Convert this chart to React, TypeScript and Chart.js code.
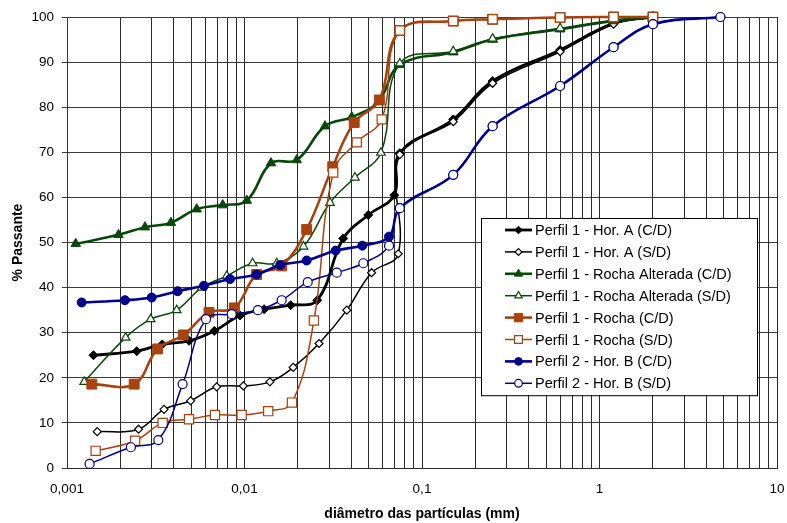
import React, { useEffect, useRef } from 'react';
import { Chart, registerables } from 'chart.js';

Chart.register(...registerables);

const FONT = '"Liberation Sans", Arial, Helvetica, sans-serif';

// Particle diameters (mm) and % passing for each test
const horA_CD_x = [0.00141, 0.00247, 0.00344, 0.00487, 0.00676, 0.00943, 0.0129, 0.0182, 0.0257, 0.036, 0.0498, 0.0698, 0.075, 0.15, 0.25, 0.6, 1.2, 2.0];
const horA_CD_y = [25.0, 25.9, 27.4, 28.2, 30.4, 33.8, 35.2, 36.1, 37.2, 50.9, 56.1, 60.5, 69.8, 77.3, 85.8, 92.7, 98.6, 100];

const horA_SD_x = [0.00148, 0.00253, 0.00352, 0.00497, 0.00697, 0.00985, 0.0139, 0.0188, 0.0263, 0.0377, 0.052, 0.0735, 0.075, 0.15, 0.25, 0.6, 1.2, 2.0];
const horA_SD_y = [8.05, 8.6, 13.0, 14.9, 18.0, 18.2, 19.1, 22.3, 27.6, 35.0, 43.3, 47.5, 69.5, 76.8, 85.3, 92.3, 98.4, 100];

const rochaAlt_CD_x = [0.00112, 0.00195, 0.00275, 0.00385, 0.00538, 0.00754, 0.0103, 0.0141, 0.0197, 0.0284, 0.0402, 0.0567, 0.075, 0.15, 0.25, 0.6, 1.2, 2.0];
const rochaAlt_CD_y = [49.7, 51.7, 53.4, 54.4, 57.4, 58.3, 59.3, 67.6, 68.3, 75.8, 77.8, 81.2, 89.4, 92.2, 95.0, 97.3, 99.1, 100];

const rochaAlt_SD_x = [0.00125, 0.00214, 0.00296, 0.00415, 0.00574, 0.00794, 0.0111, 0.0152, 0.0215, 0.0303, 0.0419, 0.0587, 0.075, 0.15, 0.25, 0.6, 1.2, 2.0];
const rochaAlt_SD_y = [19.1, 28.9, 33.0, 35.0, 40.0, 42.6, 45.4, 45.4, 49.1, 58.8, 64.4, 69.9, 89.7, 92.4, 95.2, 97.5, 99.3, 100];

const rocha_CD_x = [0.00138, 0.00239, 0.00324, 0.00452, 0.00631, 0.00877, 0.0117, 0.0162, 0.0224, 0.0314, 0.0415, 0.0575, 0.075, 0.15, 0.25, 0.6, 1.2, 2.0];
const rocha_CD_y = [18.6, 18.6, 26.4, 29.5, 34.5, 35.5, 42.9, 44.8, 52.9, 66.8, 76.6, 81.6, 97.0, 99.1, 99.5, 99.9, 100, 100];

const rocha_SD_x = [0.00145, 0.00242, 0.00346, 0.00487, 0.00682, 0.00964, 0.0136, 0.0185, 0.0246, 0.0316, 0.0429, 0.0593, 0.075, 0.15, 0.25, 0.6, 1.2, 2.0];
const rocha_SD_y = [3.8, 6.05, 10.0, 10.8, 11.75, 11.75, 12.6, 14.5, 32.7, 65.5, 72.2, 77.3, 97.0, 99.1, 99.5, 99.9, 100, 100];

const horB_CD_x = [0.00121, 0.00212, 0.0030, 0.0042, 0.00591, 0.00829, 0.0117, 0.0159, 0.0224, 0.0326, 0.0461, 0.0652, 0.075, 0.15, 0.25, 0.6, 1.2, 2.0, 4.8];
const horB_CD_y = [36.7, 37.2, 37.8, 39.2, 40.4, 41.9, 42.9, 45.0, 46.0, 48.2, 49.3, 51.3, 57.6, 65.0, 75.8, 84.7, 93.3, 98.4, 100];

const horB_SD_x = [0.00134, 0.00229, 0.00327, 0.00448, 0.00607, 0.00847, 0.0119, 0.0162, 0.0227, 0.0331, 0.0467, 0.0652, 0.075, 0.15, 0.25, 0.6, 1.2, 2.0, 4.8];
const horB_SD_y = [0.9, 4.6, 6.2, 18.6, 33.0, 34.1, 35.0, 37.2, 41.2, 43.3, 45.4, 49.3, 57.6, 65.0, 75.8, 84.7, 93.3, 98.4, 100];

const seriesLabels = [
  'Perfil 1 - Hor. A (C/D)',
  'Perfil 1 - Hor. A (S/D)',
  'Perfil 1 - Rocha Alterada (C/D)',
  'Perfil 1 - Rocha Alterada (S/D)',
  'Perfil 1 - Rocha (C/D)',
  'Perfil 1 - Rocha (S/D)',
  'Perfil 2 - Hor. B (C/D)',
  'Perfil 2 - Hor. B (S/D)',
];

const xMajorTicks = [0.001, 0.01, 0.1, 1, 10];
const xMajorLabels = ['0,001', '0,01', '0,1', '1', '10'];

const BLACK = '#000000';
const GREEN = '#0a470a';
const BROWN = '#a8420f';
const NAVY = '#00008c';

type Style = { color: string; shape: string; filled: boolean; radius: number; width: number };

const styles: Style[] = [
  { color: BLACK, shape: 'rectRot', filled: true, radius: 4.5, width: 2.8 },
  { color: BLACK, shape: 'rectRot', filled: false, radius: 4, width: 1.5 },
  { color: GREEN, shape: 'triangle', filled: true, radius: 5.5, width: 2.6 },
  { color: GREEN, shape: 'triangle', filled: false, radius: 5, width: 1.5 },
  { color: BROWN, shape: 'rect', filled: true, radius: 7, width: 2.6 },
  { color: BROWN, shape: 'rect', filled: false, radius: 6.5, width: 1.5 },
  { color: NAVY, shape: 'circle', filled: true, radius: 4.5, width: 2.6 },
  { color: NAVY, shape: 'circle', filled: false, radius: 4.5, width: 1.5 },
];

const xs = [horA_CD_x, horA_SD_x, rochaAlt_CD_x, rochaAlt_SD_x, rocha_CD_x, rocha_SD_x, horB_CD_x, horB_SD_x];
const ys = [horA_CD_y, horA_SD_y, rochaAlt_CD_y, rochaAlt_SD_y, rocha_CD_y, rocha_SD_y, horB_CD_y, horB_SD_y];

// 1..9 x 10^n grid values across the axis range
const logGridValues: number[] = [];
for (let e = -3; e <= 0; e++) {
  for (let m = 1; m <= 9; m++) logGridValues.push(Number((m * Math.pow(10, e)).toPrecision(3)));
}
logGridValues.push(10);

function drawMarker(ctx: CanvasRenderingContext2D, s: Style, x: number, y: number) {
  ctx.save();
  ctx.beginPath();
  const r = s.radius;
  if (s.shape === 'circle') {
    ctx.arc(x, y, r, 0, Math.PI * 2);
  } else if (s.shape === 'rect') {
    const h = r * Math.SQRT1_2;
    ctx.rect(x - h, y - h, 2 * h, 2 * h);
  } else if (s.shape === 'rectRot') {
    ctx.moveTo(x - r, y);
    ctx.lineTo(x, y - r);
    ctx.lineTo(x + r, y);
    ctx.lineTo(x, y + r);
    ctx.closePath();
  } else {
    let a = 0;
    ctx.moveTo(x + Math.sin(a) * r, y - Math.cos(a) * r);
    a += (2 * Math.PI) / 3;
    ctx.lineTo(x + Math.sin(a) * r, y - Math.cos(a) * r);
    a += (2 * Math.PI) / 3;
    ctx.lineTo(x + Math.sin(a) * r, y - Math.cos(a) * r);
    ctx.closePath();
  }
  ctx.fillStyle = s.filled ? s.color : '#ffffff';
  ctx.fill();
  ctx.lineWidth = s.filled ? 1 : 1.2;
  ctx.strokeStyle = s.color;
  ctx.stroke();
  ctx.restore();
}

const insideLegend = {
  id: 'insideLegend',
  afterDraw(chart: any) {
    const ctx: CanvasRenderingContext2D = chart.ctx;
    const area = chart.chartArea;
    const left = area.right - 296;
    const top = area.top + 201;
    const width = 276;
    const rowH = 21.9;
    const height = rowH * seriesLabels.length + 2;
    ctx.save();
    ctx.fillStyle = '#ffffff';
    ctx.fillRect(left, top, width, height);
    ctx.strokeStyle = '#000000';
    ctx.lineWidth = 1;
    ctx.strokeRect(Math.round(left) + 0.5, Math.round(top) + 0.5, width, height);
    ctx.font = `14.5px ${FONT}`;
    ctx.textBaseline = 'middle';
    ctx.textAlign = 'left';
    seriesLabels.forEach((label, i) => {
      const s = styles[i];
      const cy = top + 12 + i * rowH;
      ctx.beginPath();
      ctx.strokeStyle = s.color;
      ctx.lineWidth = s.width;
      ctx.moveTo(left + 24, cy);
      ctx.lineTo(left + 51, cy);
      ctx.stroke();
      drawMarker(ctx, { ...s, radius: s.radius * 0.85 }, left + 37.5, cy);
      ctx.fillStyle = '#000000';
      ctx.fillText(label, left + 54, cy + 1);
    });
    ctx.restore();
  },
};

export default function App() {
  const canvasRef = useRef<HTMLCanvasElement | null>(null);

  useEffect(() => {
    const canvas = canvasRef.current;
    if (!canvas) return;

    const datasets = seriesLabels.map((label, i) => {
      const s = styles[i];
      return {
        label,
        data: xs[i].map((x, j) => ({ x, y: ys[i][j] })),
        showLine: true,
        borderColor: s.color,
        borderWidth: s.width,
        backgroundColor: s.filled ? s.color : '#ffffff',
        pointStyle: s.shape,
        pointRadius: s.radius,
        pointBorderWidth: s.filled ? 1 : 1.2,
        pointBorderColor: s.color,
        pointBackgroundColor: s.filled ? s.color : '#ffffff',
        tension: 0.4,
        fill: false,
        clip: false,
        order: seriesLabels.length - i,
      };
    });

    const chart = new Chart(canvas, {
      type: 'scatter',
      data: { datasets },
      options: {
        animation: false,
        responsive: false,
        devicePixelRatio: 1,
        layout: { padding: { top: 17, right: 10, left: 0, bottom: 0 } },
        plugins: {
          legend: { display: false },
          tooltip: { enabled: false },
        },
        scales: {
          x: {
            type: 'logarithmic',
            min: 0.001,
            max: 10,
            afterBuildTicks: (scale: any) => {
              scale.ticks = logGridValues.map((v) => ({ value: v }));
            },
            afterFit: (scale: any) => {
              scale.height = 55;
              scale.paddingLeft = 0;
              scale.paddingRight = 0;
            },
            ticks: {
              autoSkip: false,
              maxRotation: 0,
              padding: 13,
              color: '#000000',
              font: { family: FONT, size: 13.5 },
              callback: (value: any) => {
                const idx = xMajorTicks.findIndex((t) => Math.abs(Math.log10(Number(value)) - Math.log10(t)) < 1e-6);
                return idx >= 0 ? xMajorLabels[idx] : '';
              },
            },
            grid: { color: '#2a2a2a', lineWidth: 1, drawTicks: false },
            border: { color: '#2a2a2a', width: 1 },
            title: {
              display: true,
              text: 'diâmetro das partículas (mm)',
              color: '#000000',
              font: { family: FONT, size: 14, weight: 'bold' },
              padding: { top: 0, bottom: 0 },
            },
          },
          y: {
            min: 0,
            max: 100,
            afterFit: (scale: any) => {
              scale.width = 67;
              scale.paddingTop = 0;
              scale.paddingBottom = 0;
            },
            ticks: {
              stepSize: 10,
              padding: 8,
              color: '#000000',
              font: { family: FONT, size: 13.5 },
            },
            grid: { color: '#3a3a3a', lineWidth: 1, tickLength: 5 },
            border: { color: '#3a3a3a', width: 1 },
            title: {
              display: true,
              text: '% Passante',
              color: '#000000',
              font: { family: FONT, size: 14, weight: 'bold' },
              padding: { top: 10, bottom: 0 },
            },
          },
        },
      } as any,
      plugins: [insideLegend],
    });

    return () => chart.destroy();
  }, []);

  return (
    <div style={{ position: 'absolute', left: 0, top: 0, width: 787, height: 523, background: '#ffffff' }}>
      <canvas ref={canvasRef} width={787} height={523} style={{ display: 'block', width: 787, height: 523 }} />
    </div>
  );
}
